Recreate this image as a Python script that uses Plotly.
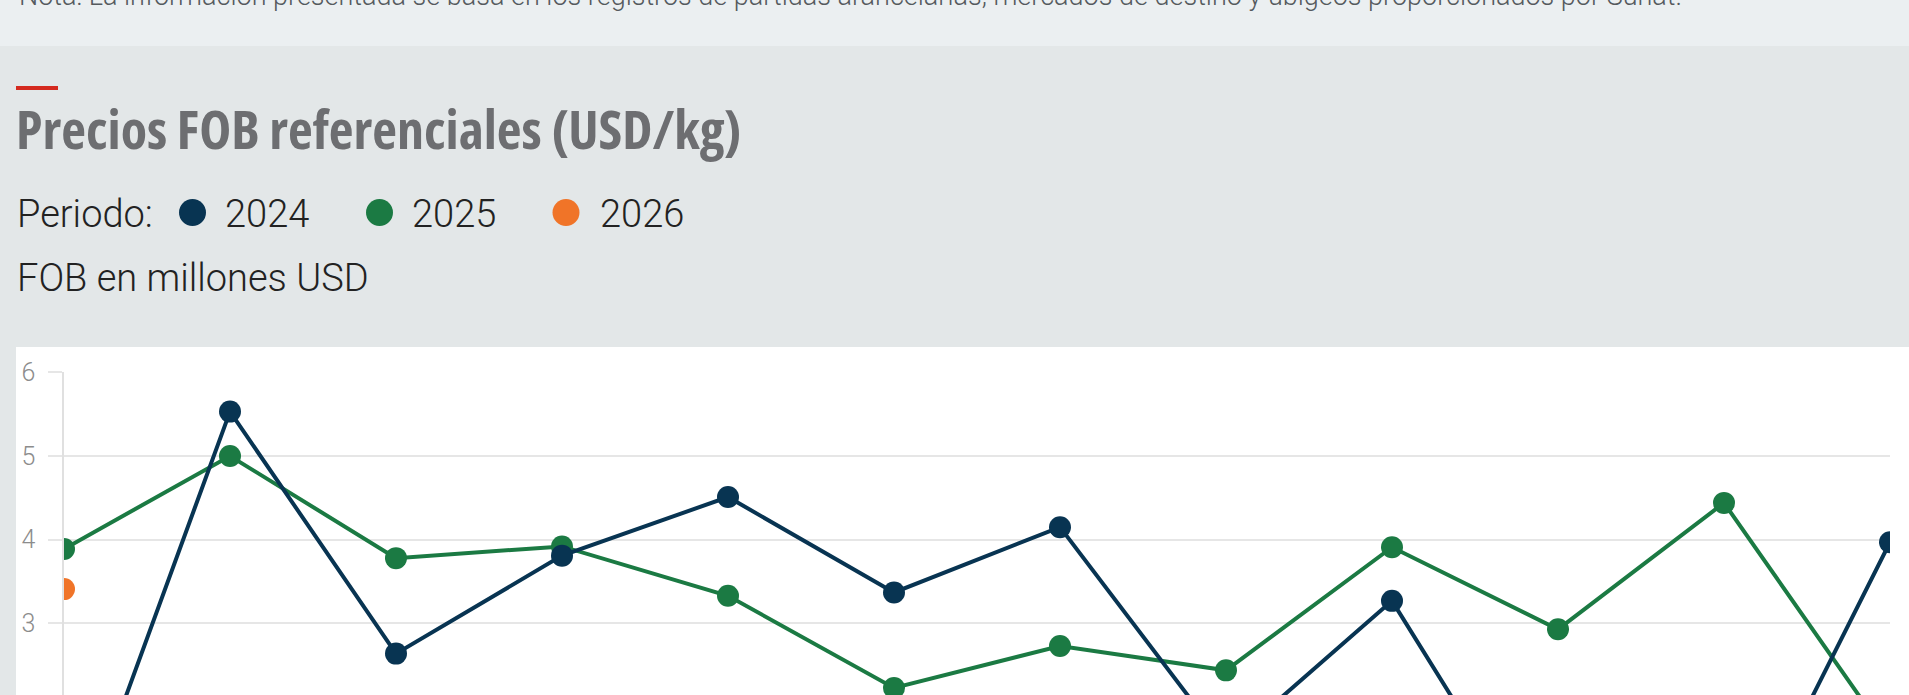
import plotly.graph_objects as go

# ---------------- data ----------------
months = ["Ene", "Feb", "Mar", "Abr", "May", "Jun", "Jul", "Ago", "Sep", "Oct", "Nov", "Dic"]
y2024 = [0.11, 5.53, 2.64, 3.81, 4.51, 3.37, 4.15, 1.54, 3.27, 0.08, 0.03, 3.97]
y2025 = [3.89, 5.00, 3.78, 3.92, 3.33, 2.23, 2.73, 2.44, 3.91, 2.93, 4.44, 1.61]
y2026 = [3.41]
y_ticks = [2, 3, 4, 5, 6]

title_text = "Precios FOB referenciales (USD/kg)"
note_text = ("Nota: La información presentada se basa en los registros de partidas arancelarias, "
             "mercados de destino y ubigeos proporcionados por Sunat.")
legend_title = "Periodo:"
legend_labels = ["2024", "2025", "2026"]
subtitle_text = "FOB en millones USD"

# ---------------- style ----------------
W, H = 1909, 695
C24, C25, C26 = "#083452", "#1b7a43", "#f07428"
GRID = "#e6e6e6"

plot_left, plot_right, plot_top, plot_bottom = 64, 1890, 372, 695
PW = plot_right - plot_left
PH = plot_bottom - plot_top
unit = 83.8
y_lo = 6 - PH / unit


def px(x):
    """page pixel x -> paper coordinate"""
    return (x - plot_left) / PW


def py(y):
    """page pixel y -> paper coordinate"""
    return (plot_bottom - y) / PH


fig = go.Figure()
fig.add_trace(go.Scatter(x=months[:len(y2026)], y=y2026, mode="markers", name="2026",
                         marker=dict(color=C26, size=22)))
fig.add_trace(go.Scatter(x=months, y=y2025, mode="lines+markers", name="2025",
                         line=dict(color=C25, width=4), marker=dict(color=C25, size=22)))
fig.add_trace(go.Scatter(x=months, y=y2024, mode="lines+markers", name="2024",
                         line=dict(color=C24, width=4), marker=dict(color=C24, size=22)))

shapes = [
    # top band
    dict(type="rect", xref="paper", yref="paper", x0=px(-50), x1=px(W + 50), y0=py(46), y1=py(-50),
         fillcolor="#ebeff1", line=dict(width=0), layer="below"),
    # white chart card
    dict(type="rect", xref="paper", yref="paper", x0=px(16), x1=px(W + 50), y0=py(H + 50), y1=py(347),
         fillcolor="#ffffff", line=dict(width=0), layer="below"),
    # red accent
    dict(type="rect", xref="paper", yref="paper", x0=px(16), x1=px(58), y0=py(90), y1=py(86),
         fillcolor="#d42a1f", line=dict(width=0), layer="below"),
]
legend_dot_x = [192.5, 379.5, 566]
legend_text_x = [225, 412, 600]
for cx, col in zip(legend_dot_x, [C24, C25, C26]):
    shapes.append(dict(type="circle", xref="paper", yref="paper", x0=px(cx - 13.5), x1=px(cx + 13.5),
                       y0=py(212.5 + 13.5), y1=py(212.5 - 13.5), fillcolor=col, line=dict(width=0)))

light = dict(family="Roboto", weight=300)
annotations = [
    dict(text=note_text, xref="paper", yref="paper", x=px(17), y=py(14), xanchor="left", yanchor="bottom",
         showarrow=False, font=dict(size=27, color="#555a5e", **light)),
    dict(text='<span style="font-stretch:condensed">' + title_text + '</span>', xref="paper", yref="paper",
         x=px(14), y=py(128), xanchor="left", yanchor="middle", showarrow=False,
         font=dict(family="Open Sans", weight=700, size=54, color="#6d6e71")),
    dict(text=legend_title, xref="paper", yref="paper", x=px(15), y=py(214), xanchor="left", yanchor="middle",
         showarrow=False, font=dict(size=38, color="#222222", **light)),
    dict(text=subtitle_text, xref="paper", yref="paper", x=px(15), y=py(278), xanchor="left", yanchor="middle",
         showarrow=False, font=dict(size=38, color="#222222", **light)),
]
for tx, lab in zip(legend_text_x, legend_labels):
    annotations.append(dict(text=lab, xref="paper", yref="paper", x=px(tx - 2), y=py(214), xanchor="left",
                            yanchor="middle", showarrow=False, font=dict(size=38, color="#222222", **light)))

fig.update_layout(
    width=W, height=H,
    margin=dict(l=plot_left, r=W - plot_right, t=plot_top, b=H - plot_bottom, pad=0, autoexpand=False),
    paper_bgcolor="#e3e7e8",
    plot_bgcolor="rgba(0,0,0,0)",
    showlegend=False,
    shapes=shapes,
    annotations=annotations,
    xaxis=dict(type="category", categoryorder="array", categoryarray=months, range=[0, 11],
               automargin=False, showgrid=False, zeroline=False, showline=False, showticklabels=False),
    yaxis=dict(range=[y_lo, 6.003], tickvals=y_ticks, automargin=False, showgrid=True, gridcolor=GRID,
               gridwidth=1.5, zeroline=False, showline=True, linecolor="#e0e0e0", linewidth=1.5,
               ticks="outside", ticklen=14, tickcolor=GRID, tickwidth=1.5, ticklabelstandoff=8,
               tickfont=dict(family="Roboto", weight=300, size=25, color="#8c8c8c")),
    hovermode=False,
)

fig.write_html("out.html", config={"displayModeBar": False},
               post_script="document.body.style.margin='0';document.body.style.overflow='hidden';")
